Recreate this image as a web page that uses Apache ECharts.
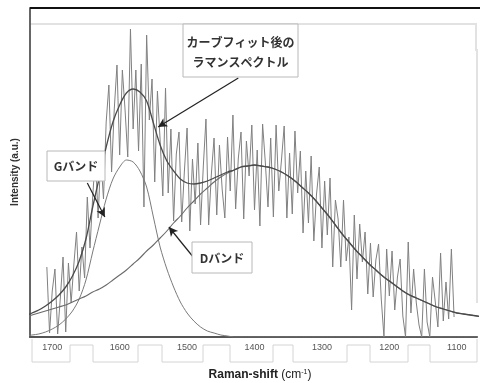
<!DOCTYPE html>
<html><head><meta charset="utf-8">
<script src="https://cdn.jsdelivr.net/npm/echarts@6/dist/echarts.min.js"></script>
<style>html,body{margin:0;padding:0;background:#fff}#c{width:480px;height:383px}</style>
</head><body><div id="c"></div>
<script>
// Tick labels (Raman shift, cm-1)
const tickLabels = [1700, 1600, 1500, 1400, 1300, 1200, 1100];

// Fitted band curves, wavenumber grid
const bandShift = [1740,1730,1720,1710,1700,1690,1680,1670,1660,1650,1640,1630,1620,1610,1600,1590,1580,1570,1560,1550,1540,1530,1520,1510,1500,1490,1480,1470,1460,1450,1440,1430,1420,1410,1400,1390,1380,1370,1360,1350,1340,1330,1320,1310,1300,1290,1280,1270,1260,1250,1240,1230,1220,1210,1200,1190,1180,1170,1160,1150,1140,1130,1120,1110,1100,1090,1080,1070,1060];
const gBand = [1,2,3,5,8,12,18,26,38,57,85,112,138,158,170,177,175,166,150,120,90,68,50,35,24,16,10,6,4,2,1,0,0,0,0,0,0,0,0,0,0,0,0,0,0,0,0,0,0,0,0,0,0,0,0,0,0,0,0,0,0,0,0,0,0,0,0,0,0];
const dBand = [20,22,24,26,28,30,32,35,38,41,45,48,52,57,62,67,73,79,86,92,99,106,114,121,129,136,143,149,155,160,164,167,170,171,172,171,170,168,165,161,156,150,144,137,129,121,112,103,95,87,80,73,67,61,56,51,46,42,39,36,33,30,28,26,24,23,22,21,20];
const fitCurve = [21,24,27,31,36,42,50,61,76,98,130,160,190,215,232,244,248,245,236,214,192,176,166,158,154,153,154,156,159,162,165,167,170,171,172,171,170,168,165,161,156,150,144,137,129,121,112,103,95,87,80,73,67,61,56,51,46,42,39,36,33,30,28,26,24,23,22,21,20];

// Measured (noisy) spectrum
const rawShift = [1708,1704,1700,1696,1692,1688,1684,1680,1676,1672,1668,1664,1660,1656,1652,1648,1644,1640,1636,1632,1628,1624,1620,1616,1612,1608,1604,1600,1596,1592,1588,1584,1580,1576,1572,1568,1564,1560,1556,1552,1548,1544,1540,1536,1532,1528,1524,1520,1516,1512,1508,1504,1500,1496,1492,1488,1484,1480,1476,1472,1468,1464,1460,1456,1452,1448,1444,1440,1436,1432,1428,1424,1420,1416,1412,1408,1404,1400,1396,1392,1388,1384,1380,1376,1372,1368,1364,1360,1356,1352,1348,1344,1340,1336,1332,1328,1324,1320,1316,1312,1308,1304,1300,1296,1292,1288,1284,1280,1276,1272,1268,1264,1260,1256,1252,1248,1244,1240,1236,1232,1228,1224,1220,1216,1212,1208,1204,1200,1196,1192,1188,1184,1180,1176,1172,1168,1164,1160,1156,1152,1148,1144,1140,1136,1132,1128,1124,1120,1116,1112,1108,1104];
const rawIntensity = [70,4,46,68,3, 39,80,5,74,34, 72,105,46,90,59, 140,89,140,182,119, 181,138,215,252,165, 228,272,182,267,227, 180,308,208,267,186, 273,130,302,217,258, 155,246,197,141,249, 144,208,116,183,205, 115,166,209,106,178, 133,194,112,170,218, 112,163,199,122,192, 148,119,200,146,222, 128,179,205,118,196, 161,212,127,187,111, 213,175,130,199,120, 212,146,177,211,119, 184,123,206,144,186, 104,166,114,181,96, 143,170,89,156,102, 159,70,137,118,70, 137,76,100,27,122, 58,113,75,105,43, 94,40,77,93,38, 0,88,41,86,27, 60,78,21,0,95, 24,68,34,12,0, 68,15,0,60,36, 10,84,16,55,18, 88,20];

const pair = (xs, ys) => xs.map((x, i) => [x, ys[i]]);
const jp = '"Noto Sans CJK JP", "Noto Sans", sans-serif';

// Tick-label outline (decorative step frame below the axis)
const stepPts = [[32,339],[32,362],[70,362],[70,345],[93,345],[93,362],[138,362],[138,345],[162,345],[162,362],[203,362],[203,345],[230,345],[230,362],[273,362],[273,345],[293,345],[293,362],[347,362],[347,345],[370,345],[370,362],[408,362],[408,345],[430,345],[430,362],[477,362],[477,339]];

const chart = echarts.init(document.getElementById('c'), null, {renderer: 'canvas'});
chart.setOption({
  animation: false,
  backgroundColor: '#fff',
  grid: {left: 30, right: 3, top: 8, bottom: 46},
  xAxis: {
    type: 'value', inverse: true, min: 1070, max: 1733,
    axisLine: {show: true, onZero: false, lineStyle: {color: '#555', width: 2}},
    axisTick: {show: false},
    splitLine: {show: false},
    axisLabel: {customValues: tickLabels, formatter: v => String(v), fontSize: 9, color: '#555', margin: 6, fontFamily: 'Liberation Sans, sans-serif'}
  },
  yAxis: {
    type: 'value', min: 0, max: 329,
    axisLine: {show: true, lineStyle: {color: '#666', width: 2}},
    axisTick: {show: false}, axisLabel: {show: false}, splitLine: {show: false}
  },
  series: [
    {type: 'line', data: pair(rawShift, rawIntensity), symbol: 'none', lineStyle: {color: '#808080', width: 1}, z: 1},
    {type: 'line', data: pair(bandShift, gBand), symbol: 'none', smooth: 0.3, lineStyle: {color: '#7a7a7a', width: 1}, z: 2},
    {type: 'line', data: pair(bandShift, dBand), symbol: 'none', smooth: 0.3, lineStyle: {color: '#6a6a6a', width: 1.1}, z: 2},
    {type: 'line', data: pair(bandShift, fitCurve), symbol: 'none', smooth: 0.3, lineStyle: {color: '#4a4a4a', width: 1.3}, z: 3,
      markLine: {
        silent: true, symbol: ['none', 'arrow'], symbolSize: [7, 9], label: {show: false},
        lineStyle: {color: '#222', width: 1.2, type: 'solid'},
        data: [
          [{coord: [1424, 259]}, {coord: [1543, 210]}],
          [{coord: [1648, 154]}, {coord: [1622, 120]}],
          [{coord: [1491, 80]}, {coord: [1527, 110]}]
        ]
      }
    }
  ],
  graphic: [
    {type: 'line', shape: {x1: 30, y1: 8, x2: 480, y2: 8}, style: {stroke: '#111', lineWidth: 2}, z: 10},
    {type: 'polyline', shape: {points: [[31,24],[476,24],[476,50],[477,50],[477,303]]}, style: {stroke: '#e2e2e2', lineWidth: 2, fill: null}, z: 0},
    {type: 'polyline', shape: {points: stepPts}, style: {stroke: '#d4d4d4', lineWidth: 1, fill: null}, z: 0},
    {type: 'rect', shape: {x: 183, y: 24, width: 115, height: 53}, style: {fill: '#fff', stroke: '#b8b8b8', lineWidth: 1}, z: 20},
    {type: 'text', x: 240.5, y: 52, style: {text: 'カーブフィット後の\nラマンスペクトル', fontFamily: jp, fontSize: 12, fontWeight: 'bold', lineHeight: 20, fill: '#333', align: 'center', verticalAlign: 'middle'}, z: 21},
    {type: 'rect', shape: {x: 47, y: 151, width: 58, height: 30}, style: {fill: '#fff', stroke: '#b8b8b8', lineWidth: 1}, z: 20},
    {type: 'text', x: 76, y: 166, style: {text: 'Gバンド', fontFamily: jp, fontSize: 12, fontWeight: 'bold', fill: '#333', align: 'center', verticalAlign: 'middle'}, z: 21},
    {type: 'rect', shape: {x: 192, y: 242, width: 60, height: 31}, style: {fill: '#fff', stroke: '#b8b8b8', lineWidth: 1}, z: 20},
    {type: 'text', x: 222, y: 258, style: {text: 'Dバンド', fontFamily: jp, fontSize: 12, fontWeight: 'bold', fill: '#333', align: 'center', verticalAlign: 'middle'}, z: 21},
    {type: 'text', x: 15, y: 172, rotation: Math.PI / 2, style: {text: 'Intensity (a.u.)', fontFamily: 'Liberation Sans, sans-serif', fontSize: 10, fontWeight: 'bold', fill: '#333', align: 'center', verticalAlign: 'middle'}, z: 21},
    {type: 'text', x: 260, y: 375, style: {
      text: '{b|Raman-shift} {n|(cm}{s|-1}{n|)}', align: 'center', verticalAlign: 'middle',
      rich: {
        b: {fontFamily: 'Liberation Sans, sans-serif', fontSize: 12, fontWeight: 'bold', fill: '#222'},
        n: {fontFamily: 'Liberation Sans, sans-serif', fontSize: 12, fill: '#222'},
        s: {fontFamily: 'Liberation Sans, sans-serif', fontSize: 7, fill: '#222', verticalAlign: 'top', padding: [0, 0, 6, 0]}
      }}, z: 21}
  ]
});
</script></body></html>
